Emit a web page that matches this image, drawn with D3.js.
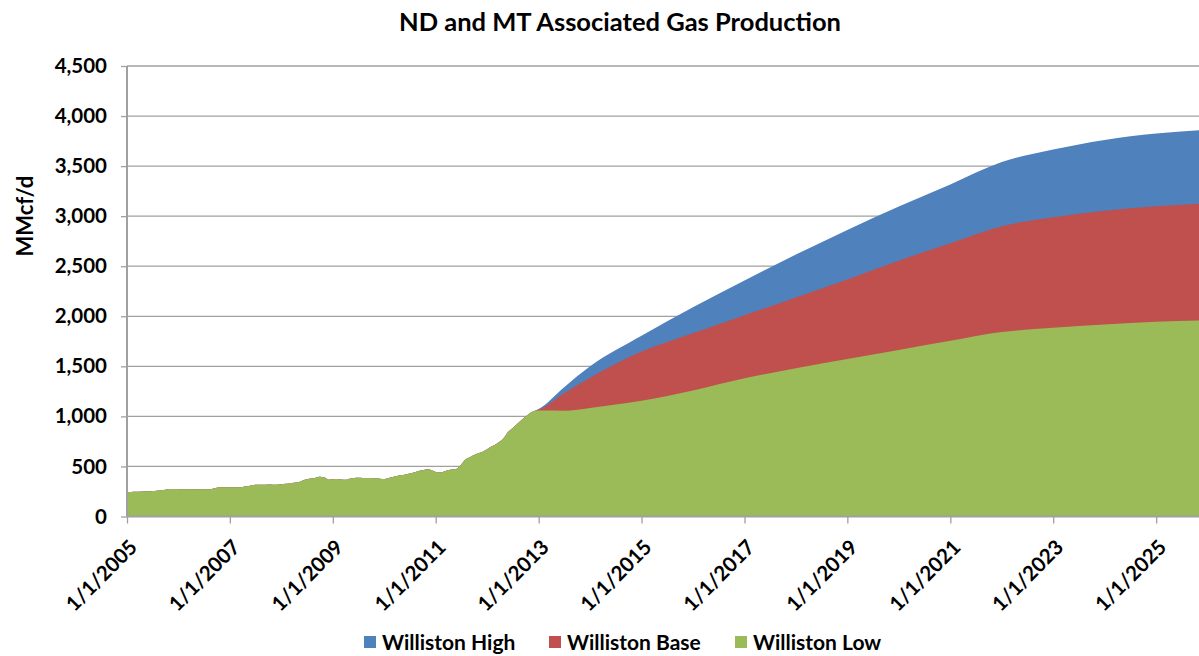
<!DOCTYPE html>
<html>
<head>
<meta charset="utf-8">
<script src="https://cdn.jsdelivr.net/npm/d3@7"></script>
<style>
  body { margin: 0; background: #fff; }
  svg { display: block; }
  text { font-family: Lato, "Open Sans", sans-serif; font-weight: 700; fill: #000; }
</style>
</head>
<body>
<svg id="chart" width="1199" height="656"></svg>
<script>
// ---------------- DATA ----------------
const chartTitle = "ND and MT Associated Gas Production";
const yAxisTitle = "MMcf/d";
const seriesNames = ["Williston High", "Williston Base", "Williston Low"];
const seriesColors = ["#4F81BD", "#C0504D", "#9BBB59"];

// Historical monthly production (shared by all scenarios), Jan 2005 - Dec 2012
const historyStart = "2005-01-01";
const history2005 = [242, 244, 246, 248, 250, 252, 255, 258, 262, 266, 275, 274];
const history2006 = [273, 272, 272, 271, 270, 272, 272, 270, 278, 288, 292, 292];
const history2007 = [291, 292, 290, 295, 302, 310, 318, 318, 316, 320, 318, 318];
const history2008 = [322, 326, 330, 336, 342, 360, 372, 380, 388, 398, 392, 368];
const history2009 = [372, 374, 370, 368, 378, 385, 386, 385, 384, 385, 380, 378];
const history2010 = [375, 385, 395, 405, 412, 420, 430, 440, 455, 462, 472, 465];
const history2011 = [445, 440, 450, 465, 470, 478, 520, 570, 592, 615, 632, 648];
const history2012 = [672, 698, 720, 748, 790, 848, 885, 925, 965, 1000, 1035, 1055];

// Forecast points
const forecastDates = ["2013-01-01", "2013-07-01", "2014-01-01", "2015-01-01", "2016-01-01", "2017-01-01",
  "2018-01-01", "2019-01-01", "2020-01-01", "2021-01-01", "2022-01-01", "2023-01-01",
  "2024-01-01", "2025-01-01", "2025-11-01"];
const forecastHigh = [1075, 1292, 1500, 1805, 2090, 2358, 2616, 2862, 3096, 3317, 3540, 3665, 3762, 3825, 3858];
const forecastBase = [1068, 1232, 1385, 1647, 1830, 2010, 2188, 2368, 2555, 2730, 2900, 2990, 3055, 3100, 3125];
const forecastLow  = [1058, 1056, 1085, 1156, 1259, 1380, 1482, 1573, 1664, 1755, 1842, 1885, 1918, 1945, 1958];

// Axis ticks
const xTickLabels = ["1/1/2005", "1/1/2007", "1/1/2009", "1/1/2011", "1/1/2013", "1/1/2015",
  "1/1/2017", "1/1/2019", "1/1/2021", "1/1/2023", "1/1/2025"];
const yTicks = [0, 500, 1000, 1500, 2000, 2500, 3000, 3500, 4000, 4500];

// ---------------- BUILD ----------------
const parse = d3.timeParse("%Y-%m-%d");
const parseTick = d3.timeParse("%m/%d/%Y");
const historyValues = [].concat(history2005, history2006, history2007, history2008,
  history2009, history2010, history2011, history2012);
const histStartDate = parse(historyStart);
const history = historyValues.map((v, i) => ({ date: d3.timeMonth.offset(histStartDate, i), value: v }));
function buildSeries(fc) {
  return history.concat(forecastDates.map((d, i) => ({ date: parse(d), value: fc[i] })));
}
const seriesData = [forecastHigh, forecastBase, forecastLow].map(buildSeries);

const svg = d3.select("#chart");
const margin = { left: 127, right: 0, top: 66, bottom: 139.5 };
const W = 1199, H = 656;

const x = d3.scaleTime()
  .domain([parse("2005-01-01"), parse("2025-11-01")])
  .range([margin.left, W - margin.right]);
const y = d3.scaleLinear().domain([0, 4500]).range([H - margin.bottom, margin.top]);

// Gridlines
svg.append("g")
  .selectAll("line")
  .data(yTicks.filter(t => t > 0))
  .join("line")
  .attr("x1", x.range()[0]).attr("x2", x.range()[1])
  .attr("y1", d => y(d)).attr("y2", d => y(d))
  .attr("stroke", "#a0a0a0").attr("stroke-width", 1.3);

// Areas (overlapping, High behind)
const area = d3.area()
  .curve(d3.curveMonotoneX)
  .x(d => x(d.date))
  .y0(y(0))
  .y1(d => y(d.value));
svg.append("g")
  .selectAll("path")
  .data(seriesData)
  .join("path")
  .attr("d", area)
  .attr("fill", (d, i) => seriesColors[i]);

// Y axis
const yAxis = d3.axisLeft(y).tickValues(yTicks).tickFormat(d3.format(",")).tickSize(6).tickPadding(14);
const gy = svg.append("g").attr("transform", `translate(${margin.left},0)`).call(yAxis);
gy.select(".domain").attr("stroke", "#a0a0a0").attr("stroke-width", 2).attr("d", `M0,${y(4500)}V${y(0)}`);
gy.selectAll(".tick line").attr("stroke", "#a0a0a0").attr("stroke-width", 1.3);
gy.selectAll(".tick text").attr("font-size", 20.5).attr("font-family", "Lato").attr("font-weight", 700).attr("fill", "#000");

// X axis
const xTickDates = xTickLabels.map(parseTick);
const xAxis = d3.axisBottom(x).tickValues(xTickDates).tickFormat(d3.timeFormat("%-m/%-d/%Y")).tickSize(7);
const gx = svg.append("g").attr("transform", `translate(0,${y(0)})`).call(xAxis);
gx.select(".domain").attr("stroke", "#a0a0a0").attr("stroke-width", 2).attr("d", `M${x.range()[0]},0H${x.range()[1]}`);
gx.selectAll(".tick line").attr("stroke", "#a0a0a0").attr("stroke-width", 1.3);
gx.selectAll(".tick text")
  .attr("font-size", 20.5).attr("font-family", "Lato").attr("font-weight", 700).attr("fill", "#000")
  .attr("text-anchor", "end")
  .attr("y", 0).attr("dy", 0)
  .attr("transform", "translate(11,32) rotate(-45)");

// Title
svg.append("text")
  .attr("x", 620).attr("y", 31)
  .attr("text-anchor", "middle")
  .attr("font-size", 25.5)
  .text(chartTitle);

// Y axis title
svg.append("text")
  .attr("transform", `translate(33,${y(3000)}) rotate(-90)`)
  .attr("text-anchor", "middle")
  .attr("font-size", 22)
  .text(yAxisTitle);

// Legend
const legendX = [364, 549, 735];
const lg = svg.append("g");
seriesNames.forEach((name, i) => {
  lg.append("rect").attr("x", legendX[i]).attr("y", 636).attr("width", 12).attr("height", 12).attr("fill", seriesColors[i]);
  lg.append("text").attr("x", legendX[i] + 18).attr("y", 650).attr("font-size", 21).text(name);
});
</script>
</body>
</html>
